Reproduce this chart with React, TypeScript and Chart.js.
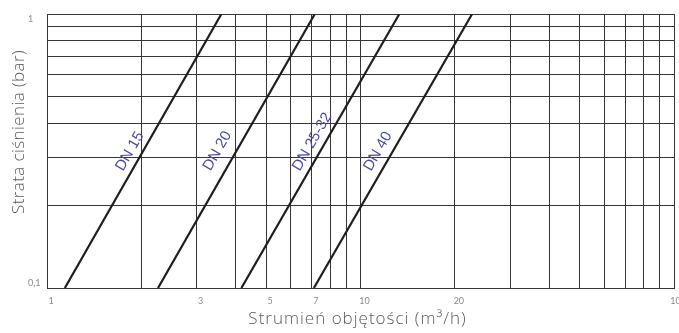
import React, { useEffect, useRef } from 'react';
import { Chart, registerables } from 'chart.js';

Chart.register(...registerables);

// ---- data ----
const seriesNames = ['DN 15', 'DN 20', 'DN 25-32', 'DN 40'];
const pressureEnds = [0.1, 1]; // bar
const dn15Flow = [1.14, 3.6]; // m³/h at 0.1 and 1 bar
const dn20Flow = [2.26, 7.15];
const dn2532Flow = [4.17, 13.3];
const dn40Flow = [7.1, 22.7];
const labelFlow = [1.85, 3.52, 7.06, 11.44];
const labelPressure = [0.314, 0.315, 0.34, 0.314];
const xGridValues = [1, 2, 3, 4, 5, 6, 7, 8, 9, 10, 20, 30, 40, 50, 60, 70, 80, 90, 100];
const xTickLabels = [1, 3, 5, 7, 10, 20, 100];
const yGridValues = [0.1, 0.2, 0.3, 0.4, 0.5, 0.6, 0.7, 0.8, 0.9, 1];
const yLabelValues = [0.1, 1];
const yLabelTexts = ['0,1', '1'];
const xTitle = 'Strumień objętości (m³/h)';
const yTitle = 'Strata ciśnienia (bar)';

const seriesFlows = [dn15Flow, dn20Flow, dn2532Flow, dn40Flow];

const GRID = '#363636';
const TICK_FONT = 'Lato, "Open Sans", sans-serif';
const TITLE_FONT = '"Open Sans", Lato, sans-serif';

const labelPlugin = {
  id: 'dnLabels',
  afterDatasetsDraw(chart: any) {
    const { ctx } = chart;
    const xs = chart.scales.x;
    const ys = chart.scales.y;
    ctx.save();
    ctx.fillStyle = '#4a4aa6';
    ctx.font = '15px "Liberation Sans", Arial, sans-serif';
    ctx.textAlign = 'center';
    ctx.textBaseline = 'middle';
    seriesFlows.forEach((flows, i) => {
      const x0 = xs.getPixelForValue(flows[0]);
      const y0 = ys.getPixelForValue(pressureEnds[0]);
      const x1 = xs.getPixelForValue(flows[1]);
      const y1 = ys.getPixelForValue(pressureEnds[1]);
      const ang = Math.atan2(y1 - y0, x1 - x0);
      const px = xs.getPixelForValue(labelFlow[i]);
      const py = ys.getPixelForValue(labelPressure[i]);
      ctx.save();
      ctx.translate(px, py);
      ctx.rotate(ang);
      ctx.fillText(seriesNames[i], 0, -1);
      ctx.restore();
    });
    ctx.restore();
  },
  afterDraw(chart: any) {
    const { ctx, chartArea } = chart;
    ctx.save();
    ctx.fillStyle = '#5a5a5a';
    ctx.textAlign = 'center';
    ctx.textBaseline = 'middle';
    ctx.font = '300 17px ' + TITLE_FONT;
    (ctx as any).letterSpacing = '1px';
    ctx.fillText(xTitle, (chartArea.left + chartArea.right) / 2 - 3, chartArea.bottom + 31);
    (ctx as any).letterSpacing = '0.4px';
    ctx.translate(chartArea.left - 28, (chartArea.top + chartArea.bottom) / 2 - 19);
    ctx.rotate(-Math.PI / 2);
    ctx.fillText(yTitle, 0, 0);
    ctx.restore();
  },
};

export default function App() {
  const canvasRef = useRef<HTMLCanvasElement | null>(null);

  useEffect(() => {
    if (!canvasRef.current) return;
    const chart = new Chart(canvasRef.current, {
      type: 'line',
      data: {
        datasets: seriesFlows.map((flows, i) => ({
          label: seriesNames[i],
          data: flows.map((q, j) => ({ x: q, y: pressureEnds[j] })),
          borderColor: '#1e1e1e',
          borderWidth: 2.2,
          pointRadius: 0,
          fill: false,
          tension: 0,
        })),
      },
      options: {
        responsive: false,
        animation: false,
        events: [],
        layout: { padding: { left: 28, right: 26, top: 14, bottom: 0 } },
        plugins: {
          legend: { display: false },
          tooltip: { enabled: false },
          title: { display: false },
        },
        scales: {
          x: {
            type: 'logarithmic',
            min: 1,
            max: 100,
            afterBuildTicks: (scale: any) => {
              scale.ticks = xGridValues.map((v) => ({ value: v }));
            },
            afterFit: (scale: any) => {
              scale.height = 45;
              scale.paddingLeft = 0;
              scale.paddingRight = 0;
            },
            grid: { color: GRID, lineWidth: 1, drawTicks: false },
            border: { color: GRID, width: 1 },
            ticks: {
              autoSkip: false,
              maxRotation: 0,
              minRotation: 0,
              padding: 8,
              labelOffset: 4,
              color: '#8a8a8a',
              font: { family: TICK_FONT, size: 9 },
              callback: (value: any) => (xTickLabels.includes(Number(value)) ? String(value) : ''),
            },
          },
          y: {
            type: 'logarithmic',
            min: 0.1,
            max: 1,
            afterBuildTicks: (scale: any) => {
              scale.ticks = yGridValues.map((v) => ({ value: v }));
            },
            afterFit: (scale: any) => {
              scale.width = 19;
              scale.paddingTop = 0;
              scale.paddingBottom = 0;
            },
            grid: { color: GRID, lineWidth: 1, drawTicks: false },
            border: { color: GRID, width: 1 },
            ticks: {
              autoSkip: false,
              padding: 7,
              crossAlign: 'far',
              color: '#8a8a8a',
              font: { family: TICK_FONT, size: 9 },
              callback: (value: any) => {
                const idx = yLabelValues.findIndex((v) => Math.abs(v - Number(value)) < 1e-9);
                if (idx < 0) return '';
                // nudge the end labels inward, as in the original drawing
                return idx === 0 ? [yLabelTexts[idx], ''] : ['', yLabelTexts[idx]];
              },
            },
          },
        },
      },
      plugins: [labelPlugin],
    } as any);
    return () => chart.destroy();
  }, []);

  return (
    <div style={{ position: 'fixed', left: 0, top: 0, width: 700, height: 333, overflow: 'hidden', background: '#fff' }}>
      <canvas ref={canvasRef} width={700} height={333} />
    </div>
  );
}
